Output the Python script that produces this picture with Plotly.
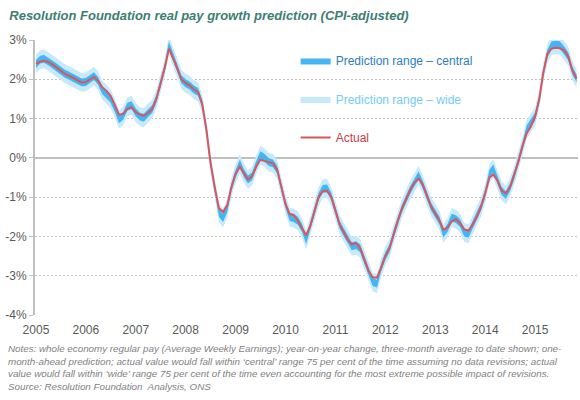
import pandas as pd
import plotly.graph_objects as go

# ---- data ----
start_month = "2005-01-01"
n_months = 131  # Jan 2005 .. Nov 2015

actual = [
    2.39, 2.45, 2.47, 2.44, 2.38, 2.30, 2.22, 2.14, 2.09, 2.04, 1.99, 1.92,
    1.93, 2.00, 2.06, 1.96, 1.80, 1.70, 1.58, 1.35, 1.10, 1.12, 1.25, 1.29,
    1.16, 1.10, 1.07, 1.14, 1.24, 1.50, 1.88, 2.29, 2.78, 2.55, 2.28, 2.00,
    1.90, 1.84, 1.74, 1.68, 1.38, 0.72, -0.12, -0.75, -1.28, -1.38, -1.20, -0.75,
    -0.40, -0.23, -0.38, -0.55, -0.47, -0.22, -0.05, -0.08, -0.11, -0.14, -0.30, -0.74,
    -1.18, -1.43, -1.45, -1.60, -1.78, -1.97, -1.74, -1.38, -0.98, -0.85, -0.84, -0.98,
    -1.35, -1.70, -1.88, -2.08, -2.20, -2.17, -2.30, -2.60, -2.88, -3.04, -3.05, -2.80,
    -2.50, -2.30, -1.95, -1.60, -1.30, -1.05, -0.82, -0.63, -0.53, -0.68, -0.95, -1.24,
    -1.42, -1.60, -1.83, -1.78, -1.62, -1.56, -1.66, -1.82, -1.85, -1.70, -1.50, -1.25,
    -0.90, -0.50, -0.42, -0.58, -0.84, -0.90, -0.75, -0.45, -0.10, 0.30, 0.63, 0.80,
    1.05, 1.50, 2.15, 2.65, 2.78, 2.80, 2.79, 2.74, 2.58, 2.22, 2.02,
]

# one-month-ahead prediction (midpoint of the ranges)
prediction = [
    2.39, 2.50, 2.52, 2.46, 2.38, 2.30, 2.22, 2.14, 2.09, 2.04, 1.99, 1.92,
    1.93, 2.00, 2.08, 1.96, 1.72, 1.62, 1.50, 1.27, 0.98, 1.07, 1.30, 1.34,
    1.16, 1.05, 1.02, 1.14, 1.24, 1.50, 1.88, 2.29, 2.86, 2.58, 2.28, 2.00,
    1.90, 1.84, 1.74, 1.68, 1.38, 0.72, -0.12, -0.75, -1.40, -1.53, -1.28, -0.75,
    -0.40, -0.15, -0.38, -0.55, -0.47, -0.18, 0.07, 0.00, -0.11, -0.14, -0.30, -0.74,
    -1.18, -1.51, -1.53, -1.60, -1.78, -2.09, -1.74, -1.38, -0.98, -0.79, -0.78, -0.98,
    -1.35, -1.70, -1.88, -2.08, -2.25, -2.22, -2.30, -2.60, -2.88, -3.16, -3.20, -2.80,
    -2.50, -2.30, -1.95, -1.60, -1.30, -1.05, -0.82, -0.63, -0.45, -0.68, -0.95, -1.24,
    -1.42, -1.60, -1.93, -1.78, -1.52, -1.56, -1.66, -1.90, -1.93, -1.70, -1.50, -1.25,
    -0.90, -0.40, -0.27, -0.58, -0.84, -0.95, -0.75, -0.45, -0.10, 0.30, 0.73, 0.90,
    1.05, 1.50, 2.15, 2.65, 2.86, 2.88, 2.87, 2.74, 2.58, 2.22, 2.02,
]

central_half_width = 0.10   # percentage points
wide_half_width = 0.24      # percentage points

year_ticks = ["2005-01-01", "2006-01-01", "2007-01-01", "2008-01-01", "2009-01-01",
              "2010-01-01", "2011-01-01", "2012-01-01", "2013-01-01", "2014-01-01",
              "2015-01-01"]
year_labels = ["2005", "2006", "2007", "2008", "2009", "2010", "2011", "2012",
               "2013", "2014", "2015"]
y_ticks = [-4, -3, -2, -1, 0, 1, 2, 3]
y_labels = ["-4%", "-3%", "-2%", "-1%", "0%", "1%", "2%", "3%"]

title_text = "Resolution Foundation real pay growth prediction (CPI-adjusted)"
notes_lines = [
    "Notes: whole economy regular pay (Average Weekly Earnings); year-on-year change, three-month average to date shown; one-",
    "month-ahead prediction; actual value would fall within \u2018central\u2019 range 75 per cent of the time assuming no data revisions; actual",
    "value would fall within \u2018wide\u2019 range 75 per cent of the time even accounting for the most extreme possible impact of revisions.",
    "Source: Resolution Foundation  Analysis, ONS",
]

# ---- build ----
dates = pd.date_range(start_month, periods=n_months, freq="MS")
wide_lo = [p - wide_half_width for p in prediction]
wide_hi = [p + wide_half_width for p in prediction]
cent_lo = [p - central_half_width for p in prediction]
cent_hi = [p + central_half_width for p in prediction]

FONT = "Liberation Sans, Arial, sans-serif"
C_CENTRAL = "#45B4F3"
C_WIDE = "#C7E9FC"
C_ACTUAL = "#D6575C"

fig = go.Figure()
fig.add_trace(go.Scatter(x=dates, y=wide_lo, mode="lines", line=dict(width=0),
                         showlegend=False, legendgroup="w", hoverinfo="skip"))
fig.add_trace(go.Scatter(x=dates, y=wide_hi, mode="lines", line=dict(width=0),
                         fill="tonexty", fillcolor=C_WIDE, legendgroup="w", legendrank=2,
                         name="<span style='color:#74CCF6'>Prediction range \u2013 wide</span>",
                         hoverinfo="skip"))
fig.add_trace(go.Scatter(x=dates, y=cent_lo, mode="lines", line=dict(width=0),
                         showlegend=False, legendgroup="c", hoverinfo="skip"))
fig.add_trace(go.Scatter(x=dates, y=cent_hi, mode="lines", line=dict(width=0),
                         fill="tonexty", fillcolor=C_CENTRAL, legendgroup="c", legendrank=1,
                         name="<span style='color:#2D7DBB'>Prediction range \u2013 central</span>",
                         hoverinfo="skip"))
fig.add_trace(go.Scatter(x=dates, y=actual, mode="lines",
                         line=dict(color=C_ACTUAL, width=2), legendgroup="a", legendrank=3,
                         name="<span style='color:#C4404A'>Actual</span>"))

fig.update_layout(
    width=580, height=400,
    margin=dict(l=35, r=2, t=40, b=85),
    paper_bgcolor="white", plot_bgcolor="white",
    font=dict(family=FONT, size=12, color="#595959"),
    title=dict(text="<b><i>" + title_text + "</i></b>", x=0.016, xanchor="left",
               xref="container", y=0.962, yanchor="middle", yref="container",
               font=dict(size=13, color="#3E7E72", family=FONT)),
    showlegend=True,
    legend=dict(x=0.48, y=0.978, xanchor="left", yanchor="top",
                bgcolor="rgba(0,0,0,0)", traceorder="grouped", tracegroupgap=19.5,
                font=dict(size=12, family=FONT), itemwidth=30),
    xaxis=dict(type="date", range=["2004-12-25", "2015-11-11"],
               tickmode="array", tickvals=year_ticks, ticktext=year_labels,
               showgrid=False, zeroline=False, showline=False, ticks="",
               ticklabelstandoff=6,
               tickfont=dict(size=12, color="#595959")),
    yaxis=dict(range=[-4, 3], tickmode="array", tickvals=y_ticks, ticktext=y_labels,
               showgrid=True, gridcolor="#BFBFBF", gridwidth=1, griddash="2px,2px",
               zeroline=True, zerolinecolor="#BFBFBF", zerolinewidth=2,
               showline=True, linecolor="#BFBFBF", linewidth=2,
               ticks="outside", ticklen=4, tickcolor="#BFBFBF", ticklabelstandoff=0,
               tickfont=dict(size=12, color="#595959")),
    hovermode=False,
)

fig.add_annotation(text="<i>" + "<br>".join(notes_lines) + "</i>",
                   xref="paper", yref="paper", x=-0.054, y=-0.093,
                   xanchor="left", yanchor="top", align="left", showarrow=False,
                   font=dict(size=9.8, color="#7F7F7F", family=FONT))

fig.write_html("out.html",
               config={"displayModeBar": False, "staticPlot": True},
               post_script="document.body.style.margin='0px';")
